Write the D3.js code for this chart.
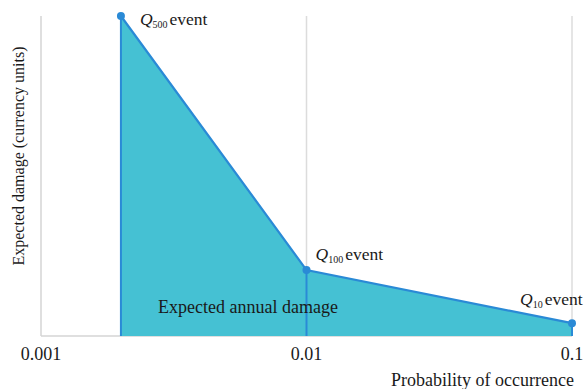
<!DOCTYPE html>
<html>
<head>
<meta charset="utf-8">
<script src="https://cdn.jsdelivr.net/npm/d3@7"></script>
<style>
  body { margin: 0; background: #fff; }
  text { font-family: "Liberation Serif", "DejaVu Serif", serif; fill: #1a1a1a; }
</style>
</head>
<body>
<div id="canvas"></div>
<script>
"use strict"

/* drawing size */
let svgWidth = 585;
let svgHeight = 389;

/* margins */
let leftMargin = 41
let rightMargin = 13
let topMargin = 16
let bottomMargin = 53

/* data: probability of occurrence and expected damage (relative units) */
let probabilities = [0.002, 0.01, 0.1];
let damages = [100, 20.6, 4];
let eventNames = ["500", "100", "10"];
let tickValues = [0.001, 0.01, 0.1];
let tickLabels = ["0.001", "0.01", "0.1"];

let points = probabilities.map((p, i) => ({ p: p, d: damages[i], name: eventNames[i] }));

let svg = d3.select("#canvas")
    .append("svg")
    .attr("width", svgWidth)
    .attr("height", svgHeight);

let xScale = d3.scaleLog()
    .domain([0.001, 0.1])
    .range([leftMargin, svgWidth - rightMargin]);

let yScale = d3.scaleLinear()
    .domain([0, 100])
    .range([svgHeight - bottomMargin, topMargin]);

/* gridlines */
svg.selectAll(".grid")
    .data(tickValues.slice(1))
    .join("line")
    .attr("x1", d => xScale(d))
    .attr("x2", d => xScale(d))
    .attr("y1", yScale(100))
    .attr("y2", yScale(0))
    .attr("stroke", "#dcdcdc")
    .attr("stroke-width", 1.5);

/* axes */
svg.append("line")
    .attr("x1", xScale(0.001)).attr("x2", xScale(0.001))
    .attr("y1", yScale(100)).attr("y2", yScale(0))
    .attr("stroke", "#d4d4d4").attr("stroke-width", 1.5);

svg.append("line")
    .attr("x1", xScale(0.001)).attr("x2", xScale(0.1))
    .attr("y1", yScale(0)).attr("y2", yScale(0))
    .attr("stroke", "#d4d4d4").attr("stroke-width", 1.5);

/* area */
let area = d3.area()
    .x(d => xScale(d.p))
    .y0(yScale(0))
    .y1(d => yScale(d.d));

svg.append("path")
    .datum(points)
    .attr("d", area)
    .attr("fill", "#45c1d3");

/* verticals at each event */
svg.selectAll(".drop")
    .data(points)
    .join("line")
    .attr("x1", d => xScale(d.p))
    .attr("x2", d => xScale(d.p))
    .attr("y1", d => yScale(d.d))
    .attr("y2", yScale(0))
    .attr("stroke", "#2a8ad6")
    .attr("stroke-width", 2);

/* curve */
let line = d3.line()
    .x(d => xScale(d.p))
    .y(d => yScale(d.d));

svg.append("path")
    .datum(points)
    .attr("d", line)
    .attr("fill", "none")
    .attr("stroke", "#2a8ad6")
    .attr("stroke-width", 2.2);

svg.selectAll(".pt")
    .data(points)
    .join("circle")
    .attr("cx", d => xScale(d.p))
    .attr("cy", d => yScale(d.d))
    .attr("r", 4)
    .attr("fill", "#2a8ad6");

/* event labels */
let labelOffsets = [[19, 9], [9, -10], [-52, -18]];
points.forEach(function(d, i) {
    let t = svg.append("text")
        .attr("x", xScale(d.p) + labelOffsets[i][0])
        .attr("y", yScale(d.d) + labelOffsets[i][1])
        .attr("font-size", 17.5);
    t.append("tspan").attr("font-style", "italic").text("Q");
    t.append("tspan").attr("font-size", 10).attr("dy", 3).text(d.name);
    t.append("tspan").attr("dy", -3).attr("dx", 2).text("event");
});

/* area label */
svg.append("text")
    .attr("x", 158)
    .attr("y", 313)
    .attr("font-size", 18)
    .text("Expected annual damage");

/* tick labels */
svg.selectAll(".tick")
    .data(tickValues)
    .join("text")
    .attr("x", d => xScale(d))
    .attr("y", 360)
    .attr("text-anchor", "middle")
    .attr("font-size", 18)
    .text((d, i) => tickLabels[i]);

/* axis titles */
svg.append("text")
    .attr("x", 574)
    .attr("y", 386)
    .attr("text-anchor", "end")
    .attr("font-size", 18)
    .text("Probability of occurrence");

svg.append("text")
    .attr("transform", "translate(24," + 156 + ") rotate(-90)")
    .attr("text-anchor", "middle")
    .attr("font-size", 16)
    .text("Expected damage (currency units)");
</script>
</body>
</html>
